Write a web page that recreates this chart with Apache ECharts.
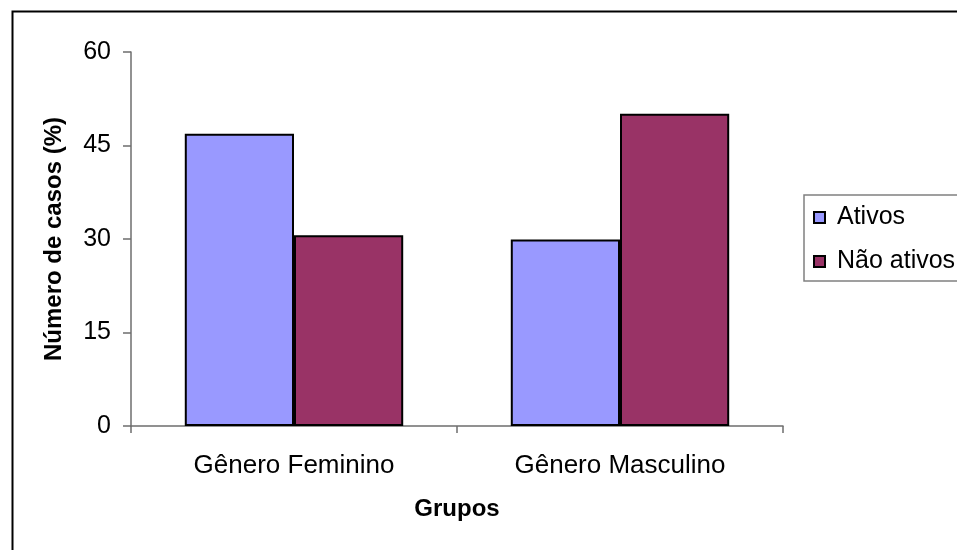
<!DOCTYPE html>
<html>
<head>
<meta charset="utf-8">
<script src="https://cdn.jsdelivr.net/npm/echarts@6/dist/echarts.min.js"></script>
<style>
  html, body { margin: 0; padding: 0; background: #fff; }
  #chart { width: 957px; height: 550px; }
</style>
</head>
<body>
<div id="chart"></div>
<script>
// Groups and percentages per activity status
const categories = ['Gênero Feminino', 'Gênero Masculino'];
const ativos = [46.9, 29.9];
const naoAtivos = [30.6, 50.1];
const yTicks = { min: 0, max: 60, interval: 15 };

const FONT = '"Liberation Sans", Arial, sans-serif';
const AXIS_GRAY = '#6e6e6e';

const chart = echarts.init(document.getElementById('chart'), null, { renderer: 'canvas' });

chart.setOption({
  animation: false,
  backgroundColor: '#fff',
  textStyle: { fontFamily: FONT, color: '#000' },
  graphic: [{
    type: 'rect',
    left: 10, top: 9,
    shape: { x: 0, y: 0, width: 1000, height: 600 },
    style: { fill: 'none', stroke: '#000', lineWidth: 2 },
    silent: true
  }],
  grid: { left: 131, right: 174, top: 52, bottom: 124, containLabel: false },
  legend: {
    orient: 'vertical',
    left: 804, top: 195,
    padding: [10, 40, 7, 9],
    itemWidth: 11, itemHeight: 11,
    itemGap: 19,
    icon: 'rect',
    borderColor: '#808080', borderWidth: 1.5,
    textStyle: { fontFamily: FONT, fontSize: 25, color: '#000', lineHeight: 25, padding: [0, 0, 0, 7] },
    data: ['Ativos', 'Não ativos']
  },
  xAxis: {
    type: 'category',
    data: categories,
    name: 'Grupos',
    nameLocation: 'middle',
    nameGap: 71,
    nameTextStyle: { fontFamily: FONT, fontSize: 24, fontWeight: 'bold', color: '#000' },
    axisLine: { lineStyle: { color: AXIS_GRAY, width: 1.5 } },
    axisTick: { show: true, length: 7, lineStyle: { color: AXIS_GRAY, width: 1.5 } },
    axisLabel: { fontFamily: FONT, fontSize: 26, color: '#000', margin: 27 }
  },
  yAxis: {
    type: 'value',
    min: yTicks.min, max: yTicks.max, interval: yTicks.interval,
    name: 'Número de casos (%)',
    nameLocation: 'middle',
    nameGap: 65,
    nameTextStyle: { fontFamily: FONT, fontSize: 24, fontWeight: 'bold', color: '#000' },
    axisLine: { show: true, lineStyle: { color: AXIS_GRAY, width: 1.5 } },
    axisTick: { show: true, length: 8, lineStyle: { color: AXIS_GRAY, width: 1.5 } },
    axisLabel: { fontFamily: FONT, fontSize: 25, color: '#000', margin: 20 },
    splitLine: { show: false }
  },
  series: [
    {
      name: 'Ativos',
      type: 'bar',
      data: ativos,
      barGap: '0%',
      barCategoryGap: '33%',
      itemStyle: { color: '#9999FF', borderColor: '#000', borderWidth: 2 }
    },
    {
      name: 'Não ativos',
      type: 'bar',
      data: naoAtivos,
      barGap: '0%',
      barCategoryGap: '33%',
      itemStyle: { color: '#993366', borderColor: '#000', borderWidth: 2 }
    }
  ]
});
</script>
</body>
</html>
